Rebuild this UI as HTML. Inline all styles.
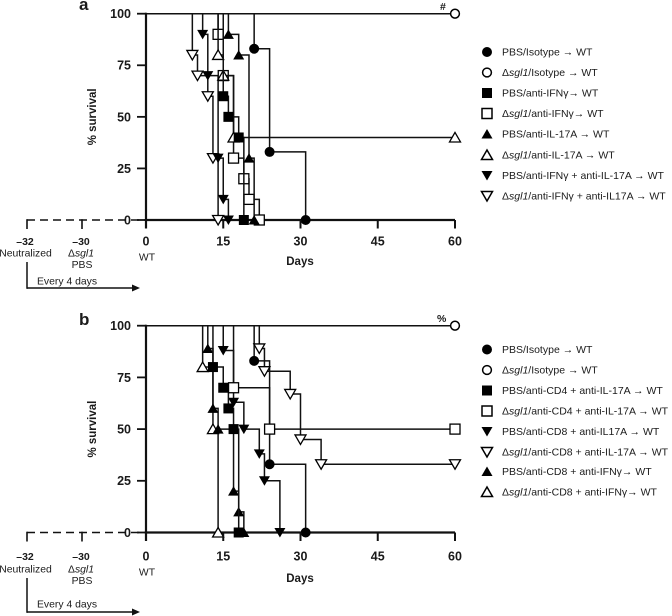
<!DOCTYPE html>
<html lang="en">
<head>
<meta charset="utf-8">
<title>Survival curves</title>
<style>
html,body{margin:0;padding:0;background:#fff;}
svg{display:block;}
text{font-family:"Liberation Sans",sans-serif;fill:#1a1a1a;}
.leg{font-size:10.5px;}
.bold{font-weight:bold;}
.title{font-size:11.5px;font-weight:bold;}
.tick{font-size:12.5px;font-weight:bold;}
.pre{font-size:10.5px;font-weight:bold;}
.note{font-size:10.4px;}
</style>
</head>
<body>
<svg id="chart" width="672" height="616" viewBox="0 0 672 616" xmlns="http://www.w3.org/2000/svg">
<text class="bold" x="79" y="10" font-size="17">a</text>
<text class="bold" x="79" y="325" font-size="17">b</text>
<text class="bold" x="440" y="10" font-size="10.5">#</text>
<text class="bold" x="437" y="322" font-size="10.5">%</text>

<g>
<g transform="translate(487,52)"><circle r="5" fill="#000"/><text class="leg" x="15" y="3.6">PBS/Isotype → WT</text></g>
<g transform="translate(487,72.5)"><circle r="4.4" fill="#fff" stroke="#000" stroke-width="1.5"/><text class="leg" x="15" y="3.6">Δ<tspan font-style="italic">sgl1</tspan>/Isotype → WT</text></g>
<g transform="translate(487,93)"><rect x="-5" y="-5" width="10" height="10" fill="#000"/><text class="leg" x="15" y="3.6">PBS/anti-IFNγ→ WT</text></g>
<g transform="translate(487,113.5)"><rect x="-5" y="-5" width="10" height="10" fill="#fff" stroke="#000" stroke-width="1.5"/><text class="leg" x="15" y="3.6">Δ<tspan font-style="italic">sgl1</tspan>/anti-IFNγ→ WT</text></g>
<g transform="translate(487,134)"><polygon points="0,-5 5.5,4.5 -5.5,4.5" fill="#000"/><text class="leg" x="15" y="3.6">PBS/anti-IL-17A → WT</text></g>
<g transform="translate(487,155)"><polygon points="0,-5 5.5,4.5 -5.5,4.5" fill="#fff" stroke="#000" stroke-width="1.5"/><text class="leg" x="15" y="3.6">Δ<tspan font-style="italic">sgl1</tspan>/anti-IL-17A → WT</text></g>
<g transform="translate(487,175.5)"><polygon points="0,5 5.5,-4.5 -5.5,-4.5" fill="#000"/><text class="leg" x="15" y="3.6">PBS/anti-IFNγ + anti-IL-17A → WT</text></g>
<g transform="translate(487,196)"><polygon points="0,5 5.5,-4.5 -5.5,-4.5" fill="#fff" stroke="#000" stroke-width="1.5"/><text class="leg" x="15" y="3.6">Δ<tspan font-style="italic">sgl1</tspan>/anti-IFNγ + anti-IL17A → WT</text></g>
</g>

<g>
<g transform="translate(487,349.5)"><circle r="5" fill="#000"/><text class="leg" x="15" y="3.6">PBS/Isotype → WT</text></g>
<g transform="translate(487,370)"><circle r="4.4" fill="#fff" stroke="#000" stroke-width="1.5"/><text class="leg" x="15" y="3.6">Δ<tspan font-style="italic">sgl1</tspan>/Isotype → WT</text></g>
<g transform="translate(487,390.5)"><rect x="-5" y="-5" width="10" height="10" fill="#000"/><text class="leg" x="15" y="3.6">PBS/anti-CD4 + anti-IL-17A → WT</text></g>
<g transform="translate(487,411)"><rect x="-5" y="-5" width="10" height="10" fill="#fff" stroke="#000" stroke-width="1.5"/><text class="leg" x="15" y="3.6">Δ<tspan font-style="italic">sgl1</tspan>/anti-CD4 + anti-IL-17A → WT</text></g>
<g transform="translate(487,431.5)"><polygon points="0,5 5.5,-4.5 -5.5,-4.5" fill="#000"/><text class="leg" x="15" y="3.6">PBS/anti-CD8 + anti-IL17A → WT</text></g>
<g transform="translate(487,452)"><polygon points="0,5 5.5,-4.5 -5.5,-4.5" fill="#fff" stroke="#000" stroke-width="1.5"/><text class="leg" x="15" y="3.6">Δ<tspan font-style="italic">sgl1</tspan>/anti-CD8 + anti-IL-17A → WT</text></g>
<g transform="translate(487,471.5)"><polygon points="0,-5 5.5,4.5 -5.5,4.5" fill="#000"/><text class="leg" x="15" y="3.6">PBS/anti-CD8 + anti-IFNγ→ WT</text></g>
<g transform="translate(487,492)"><polygon points="0,-5 5.5,4.5 -5.5,4.5" fill="#fff" stroke="#000" stroke-width="1.5"/><text class="leg" x="15" y="3.6">Δ<tspan font-style="italic">sgl1</tspan>/anti-CD8 + anti-IFNγ→ WT</text></g>
</g>

<script>
const xTickLabels = [0, 15, 30, 45, 60];
const yTickLabels = [0, 25, 50, 75, 100];

// Panel a: day of each event and survival after that event
const aPbsIsotypeDays = [21, 24, 31];
const aPbsIsotypeSurvival = [83, 33, 0];
const aSgl1IsotypeDays = [60];
const aSgl1IsotypeSurvival = [100];
const aPbsIfngDays = [15, 16, 18, 19];
const aPbsIfngSurvival = [60, 50, 40, 0];
const aSgl1IfngDays = [14, 15, 17, 19, 20, 22];
const aSgl1IfngSurvival = [90, 70, 30, 20, 10, 0];
const aPbsIl17Days = [16, 18, 20, 21];
const aPbsIl17Survival = [90, 80, 30, 0];
const aSgl1Il17Days = [14, 15, 17, 60];
const aSgl1Il17Survival = [80, 70, 40, 40];
const aPbsComboDays = [11, 12, 14, 15, 16];
const aPbsComboSurvival = [90, 70, 30, 10, 0];
const aSgl1ComboDays = [9, 10, 12, 13, 14];
const aSgl1ComboSurvival = [80, 70, 60, 30, 0];

// Panel b
const bPbsIsotypeDays = [21, 24, 31];
const bPbsIsotypeSurvival = [83, 33, 0];
const bSgl1IsotypeDays = [60];
const bSgl1IsotypeSurvival = [100];
const bPbsCd4Days = [13, 15, 16, 17, 18];
const bPbsCd4Survival = [80, 70, 60, 50, 0];
const bSgl1Cd4Days = [17, 24, 60];
const bSgl1Cd4Survival = [70, 50, 50];
const bPbsCd8Il17Days = [15, 17, 19, 22, 23, 26];
const bPbsCd8Il17Survival = [88, 63, 50, 38, 25, 0];
const bSgl1Cd8Il17Days = [22, 23, 28, 30, 34, 60];
const bSgl1Cd8Il17Survival = [89, 78, 67, 45, 33, 33];
const bPbsCd8IfngDays = [12, 13, 14, 17, 18, 19];
const bPbsCd8IfngSurvival = [89, 60, 50, 20, 10, 0];
const bSgl1Cd8IfngDays = [11, 13, 14];
const bSgl1Cd8IfngSurvival = [80, 50, 0];

const svg = document.getElementById('chart');
const NS = 'http://www.w3.org/2000/svg';
const xScale = d => 146 + d * 5.15;

function make(tag, attrs, parent) {
  const el = document.createElementNS(NS, tag);
  for (const k in attrs) el.setAttribute(k, attrs[k]);
  parent.appendChild(el);
  return el;
}

function drawMarker(parent, kind, filled, x, y) {
  const fill = filled ? '#000' : '#fff';
  const stroke = filled ? 'none' : '#000';
  let el;
  if (kind === 'circle') {
    el = make('circle', {cx: x, cy: y, r: filled ? 5 : 4.4, fill: fill, stroke: stroke, 'stroke-width': 1.5}, parent);
  } else if (kind === 'square') {
    el = make('rect', {x: x - 5, y: y - 5, width: 10, height: 10, fill: fill, stroke: stroke, 'stroke-width': 1.3}, parent);
  } else if (kind === 'up') {
    el = make('polygon', {points: [x, y - 5, x + 5.5, y + 4.5, x - 5.5, y + 4.5].join(','), fill: fill, stroke: stroke, 'stroke-width': 1.3}, parent);
  } else {
    el = make('polygon', {points: [x, y + 5, x + 5.5, y - 4.5, x - 5.5, y - 4.5].join(','), fill: fill, stroke: stroke, 'stroke-width': 1.3}, parent);
  }
  
  
}

function drawSeries(parent, name, kind, filled, days, survival, yScale) {
  const g = make('g', {}, parent);
  
  
  let d = 'M' + xScale(0) + ' ' + yScale(100);
  days.forEach((day, i) => {
    d += 'H' + xScale(day) + 'V' + yScale(survival[i]);
  });
  const line = make('path', {d: d, fill: 'none', stroke: '#111', 'stroke-width': 1.5}, g);
  
  
  days.forEach((day, i) => {
    drawMarker(g, kind, filled, xScale(day), yScale(survival[i]));
  });
}

function label(parent, name, txt, x, y, cls, anchor) {
  const t = make('text', {x: x, y: y, class: cls, 'text-anchor': anchor || 'middle'}, parent);
  t.textContent = txt;
  
  
  return t;
}

function rule(parent, name, x1, y1, x2, y2, w, extra) {
  const l = make('line', Object.assign({x1: x1, y1: y1, x2: x2, y2: y2, stroke: '#111', 'stroke-width': w}, extra || {}), parent);
  
  
}

function drawPanel(name, y0, y100, labelY, wtY, subY, pbsY, daysY, arrowTop, arrowY, everyY, series) {
  const yScale = v => y0 + v * (y100 - y0) / 100;
  const g = make('g', {}, svg);
  
  

  rule(g, 'x-axis', 146, y0, xScale(60), y0, 2.2);
  series.forEach(s => drawSeries(g, s[0], s[1], s[2], s[3], s[4], yScale));

  rule(g, 'y-axis', 146, y100 - 1, 146, y0 + 8.5, 2.2);
  yTickLabels.forEach(v => {
    rule(g, 'y-tick', 137, yScale(v), 146, yScale(v), 1.8);
    label(g, 'y-tick-label', String(v), 131, yScale(v) + 4.4, 'tick', 'end');
  });
  xTickLabels.forEach(v => {
    rule(g, 'x-tick', xScale(v), y0, xScale(v), y0 + 8.5, 2);
    label(g, 'x-tick-label', String(v), xScale(v), labelY + 4.4, 'tick');
  });
  label(g, 'y-axis-title', '% survival', 0, 0, 'title', 'middle').setAttribute('transform', 'translate(96,' + yScale(50) + ') rotate(-90)');
  label(g, 'x-axis-title', 'Days', 300, daysY, 'title');

  rule(g, 'pre-treatment-dashed-line', 27, y0, 146, y0, 1.6, {'stroke-dasharray': '8 5'});
  rule(g, 'day-minus-32-tick', 27, y0 - 0.8, 27, y0 + 9, 1.6);
  rule(g, 'day-minus-30-tick', 82, y0 - 0.8, 82, y0 + 9, 1.6);
  label(g, 'day-minus-32-label', '–32', 25, labelY + 3.8, 'pre');
  label(g, 'day-minus-30-label', '–30', 81, labelY + 3.8, 'pre');
  label(g, 'neutralized-label', 'Neutralized', 25.5, subY + 3.6, 'note');
  const sgl = label(g, 'sgl1-label', 'Δ', 81, subY + 3.6, 'note');
  const it = make('tspan', {'font-style': 'italic'}, sgl);
  it.textContent = 'sgl1';
  label(g, 'pbs-label', 'PBS', 82, pbsY + 3.6, 'note');
  label(g, 'wt-label', 'WT', 147, wtY + 3.6, 'note');
  rule(g, 'dosing-arrow-stem', 27, arrowTop, 27, arrowY + 0.8, 1.5);
  rule(g, 'dosing-arrow-line', 27, arrowY, 133, arrowY, 1.5);
  const head = make('polygon', {points: '132,' + (arrowY - 3.5) + ' 140,' + arrowY + ' 132,' + (arrowY + 3.5), fill: '#111'}, g);
  
  
  label(g, 'every-4-days-label', 'Every 4 days', 37, everyY + 3.6, 'note', 'start');
}

drawPanel('panel-a-chart', 220, 13.7, 241, 257, 253, 264.5, 265, 262, 288, 281, [
  ['series-a-pbs-isotype', 'circle', true, aPbsIsotypeDays, aPbsIsotypeSurvival],
  ['series-a-sgl1-isotype', 'circle', false, aSgl1IsotypeDays, aSgl1IsotypeSurvival],
  ['series-a-sgl1-combo', 'down', false, aSgl1ComboDays, aSgl1ComboSurvival],
  ['series-a-pbs-combo', 'down', true, aPbsComboDays, aPbsComboSurvival],
  ['series-a-sgl1-ifng', 'square', false, aSgl1IfngDays, aSgl1IfngSurvival],
  ['series-a-sgl1-il17a', 'up', false, aSgl1Il17Days, aSgl1Il17Survival],
  ['series-a-pbs-ifng', 'square', true, aPbsIfngDays, aPbsIfngSurvival],
  ['series-a-pbs-il17a', 'up', true, aPbsIl17Days, aPbsIl17Survival]
]);

drawPanel('panel-b-chart', 532.5, 325.7, 556, 572, 569, 580.5, 582, 578, 612, 604, [
  ['series-b-pbs-isotype', 'circle', true, bPbsIsotypeDays, bPbsIsotypeSurvival],
  ['series-b-sgl1-isotype', 'circle', false, bSgl1IsotypeDays, bSgl1IsotypeSurvival],
  ['series-b-pbs-cd8-il17a', 'down', true, bPbsCd8Il17Days, bPbsCd8Il17Survival],
  ['series-b-sgl1-cd8-il17a', 'down', false, bSgl1Cd8Il17Days, bSgl1Cd8Il17Survival],
  ['series-b-sgl1-cd8-ifng', 'up', false, bSgl1Cd8IfngDays, bSgl1Cd8IfngSurvival],
  ['series-b-pbs-cd8-ifng', 'up', true, bPbsCd8IfngDays, bPbsCd8IfngSurvival],
  ['series-b-pbs-cd4-il17a', 'square', true, bPbsCd4Days, bPbsCd4Survival],
  ['series-b-sgl1-cd4-il17a', 'square', false, bSgl1Cd4Days, bSgl1Cd4Survival]
]);
</script>
</svg>
</body>
</html>
